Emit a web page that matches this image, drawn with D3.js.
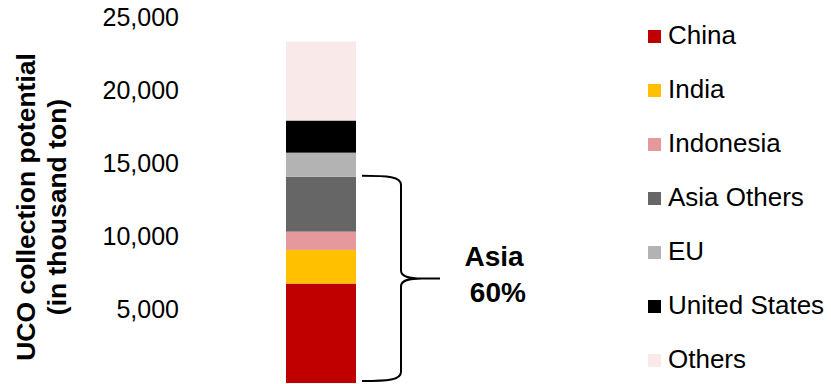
<!DOCTYPE html>
<html>
<head>
<meta charset="utf-8">
<script src="https://cdn.jsdelivr.net/npm/d3@7"></script>
<style>
  html, body { margin: 0; padding: 0; background: #fff; }
  svg { display: block; font-family: "Liberation Sans", Arial, sans-serif; }
</style>
</head>
<body>
<svg id="chart" width="831" height="384"></svg>
<script>
// Single stacked bar of used-cooking-oil collection potential by region
const categories = ["UCO potential"];
const regions = ["China", "India", "Indonesia", "Asia Others", "EU", "United States", "Others"];
const values = [6800, 2300, 1250, 3750, 1650, 2200, 5400];
const colors = ["#C00000", "#FFC000", "#E6999C", "#666666", "#B3B3B3", "#000000", "#F9E9E8"];
const asiaRegions = ["China", "India", "Indonesia", "Asia Others"];
const yTicks = [0, 5000, 10000, 15000, 20000, 25000];

const svg = d3.select("#chart");

const row = { cat: categories[0] };
regions.forEach((r, i) => { row[r] = values[i]; });

const stack = d3.stack().keys(regions);
const series = stack([row]);

const x = d3.scaleBand().domain(categories).range([286, 356]).padding(0);
const y = d3.scaleLinear().domain([0, 25000]).range([383, 17.4]);
const color = d3.scaleOrdinal().domain(regions).range(colors);

// Bars
svg.append("g")
  .selectAll("rect")
  .data(series)
  .join("rect")
    .attr("x", d => x(d[0].data.cat))
    .attr("width", x.bandwidth())
    .attr("y", d => y(d[0][1]))
    .attr("height", d => y(d[0][0]) - y(d[0][1]))
    .attr("fill", d => color(d.key));

// Y axis: labels only
const fmt = d3.format(",");
const yAxis = d3.axisLeft(y)
  .tickValues(yTicks)
  .tickSize(0)
  .tickPadding(2)
  .tickFormat(d => d === 0 ? "-" : fmt(d));

const gy = svg.append("g")
  .attr("transform", "translate(181,0)")
  .call(yAxis);
gy.select(".domain").remove();
gy.selectAll("text")
  .attr("font-size", 25)
  .attr("font-family", "Liberation Sans, Arial, sans-serif")
  .attr("fill", "#000");

// Y title (two lines, rotated)
const title = svg.append("text")
  .attr("transform", "translate(0,207) rotate(-90)")
  .attr("text-anchor", "middle")
  .attr("font-size", 26.5)
  .attr("font-weight", "bold")
  .attr("fill", "#000");
title.append("tspan").attr("x", 0).attr("y", 35).text("UCO collection potential");
title.append("tspan").attr("x", 0).attr("y", 66).text("(in thousand ton)");

// Brace around the Asian regions
const asiaTotal = d3.sum(asiaRegions, r => values[regions.indexOf(r)]);
const total = d3.sum(values);
const yTop = y(asiaTotal) - 1;
const yBot = y(0) - 2;
const yMid = (yTop + yBot) / 2;
const bx0 = 362, bx1 = 401, bx2 = 440;
const brace = d3.path();
brace.moveTo(bx0, yTop);
brace.bezierCurveTo(bx0 + 26, yTop, bx1, yTop + 1, bx1, yTop + 9);
brace.lineTo(bx1, yMid - 8);
brace.bezierCurveTo(bx1, yMid - 1, bx1 + 10, yMid, bx2 - 18, yMid);
brace.lineTo(bx2, yMid);
brace.moveTo(bx2 - 18, yMid);
brace.bezierCurveTo(bx1 + 10, yMid, bx1, yMid + 1, bx1, yMid + 8);
brace.lineTo(bx1, yBot - 9);
brace.bezierCurveTo(bx1, yBot - 1, bx0 + 26, yBot, bx0, yBot);
svg.append("path")
  .attr("d", brace.toString())
  .attr("fill", "none")
  .attr("stroke", "#000")
  .attr("stroke-width", 2);

const asiaLabel = svg.append("text")
  .attr("text-anchor", "middle")
  .attr("font-size", 28)
  .attr("font-weight", "bold")
  .attr("fill", "#000");
asiaLabel.append("tspan").attr("x", 494).attr("y", 266).text("Asia");
asiaLabel.append("tspan").attr("x", 494).attr("y", 302)
  .text("\u00A0" + Math.round(asiaTotal / total * 100) + "%");

// Legend
const legend = svg.append("g")
  .selectAll("g")
  .data(regions)
  .join("g")
    .attr("transform", (d, i) => `translate(648,${44 + i * 54})`);
legend.append("rect")
  .attr("x", 0).attr("y", -14).attr("width", 13).attr("height", 13)
  .attr("fill", d => color(d));
legend.append("text")
  .attr("x", 20).attr("y", 0)
  .attr("font-size", 26)
  .attr("fill", "#000")
  .text(d => d);
</script>
</body>
</html>
